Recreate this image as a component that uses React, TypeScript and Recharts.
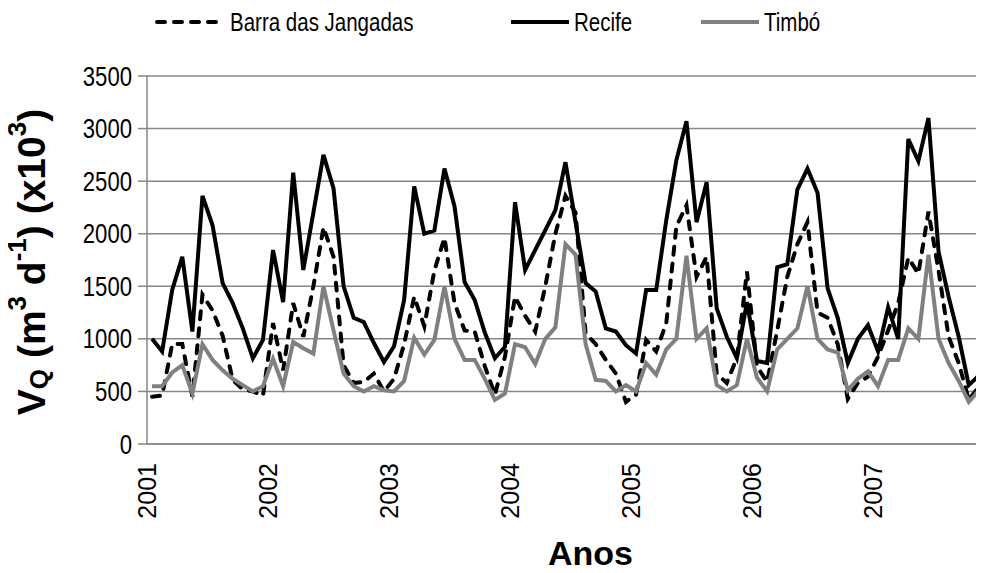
import { CartesianGrid, Label, Line, LineChart, XAxis, YAxis } from 'recharts';

const YEARS = ['2001', '2002', '2003', '2004', '2005', '2006', '2007'];

// monthly values, Jan 2001 .. Dec 2007
const BARRA = [
  450, 460, 950, 950, 450, 1420, 1270, 1030, 610, 520, 500, 460,
  1150, 700, 1340, 1020, 1500, 2060, 1780, 750, 580, 590, 670, 500,
  620, 950, 1400, 1120, 1650, 1960, 1340, 1080, 1070, 740, 470, 830,
  1400, 1220, 1070, 1500, 2000, 2360, 2200, 1050, 950, 800, 670, 400,
  470, 990, 880, 1150, 2070, 2270, 1590, 1780, 670, 580, 820, 1640,
  735, 590, 1080, 1590, 1900, 2110, 1250, 1200, 950, 430, 580, 640,
  830, 1080, 1340, 1770, 1620, 2210, 1650, 1020, 770, 420, 545, 600,
];

const RECIFE = [
  1000, 880, 1465, 1780, 1070, 2360, 2080, 1530, 1340, 1100, 815, 990,
  1845, 1350, 2580, 1655, 2200, 2750, 2430, 1500, 1200, 1160, 960, 780,
  930, 1370, 2450, 2000, 2030, 2620, 2260, 1540, 1370, 1060, 815, 925,
  2300, 1655, 1845, 2035, 2225, 2680, 2110, 1530, 1450, 1100, 1070, 940,
  860, 1465, 1465, 2130, 2700, 3070, 2110, 2490, 1290, 1020, 815, 1350,
  790, 770, 1680, 1710, 2420, 2620, 2390, 1480, 1200, 770, 1000, 1130,
  880, 1300, 1000, 2900, 2690, 3100, 1830, 1400, 1020, 560, 650, 650,
];

const TIMBO = [
  550, 550, 680, 750, 480, 950, 800, 700, 620, 560, 500, 550,
  810, 550, 970, 910, 860, 1500, 1080, 670, 550, 500, 550, 510,
  500, 600, 1010, 850, 990, 1500, 1000, 800, 800, 620, 420, 480,
  950, 920, 760, 1000, 1110, 1900, 1800, 950, 610, 600, 500, 560,
  500, 770, 660, 900, 1000, 1790, 1000, 1100, 560, 500, 560, 1000,
  630, 500, 900, 1000, 1100, 1500, 1000, 900, 870, 510, 620, 690,
  550, 800, 800, 1100, 1000, 1800, 1000, 770, 600, 400, 510, 560,
];

const Y_TICKS = [0, 500, 1000, 1500, 2000, 2500, 3000, 3500];

const SERIES = [
  { key: 'barra', label: 'Barra das Jangadas', color: '#000000', dash: '8 9' },
  { key: 'recife', label: 'Recife', color: '#000000', dash: undefined },
  { key: 'timbo', label: 'Timbó', color: '#808080', dash: undefined },
];

const FONT = '"Liberation Sans", Arial, sans-serif';
const AXIS_GREY = '#868686';
// the original lettering is a narrow face; squeeze the regular one
const NARROW = 0.82;

// point for month i sits in the middle of its slot
const data = RECIFE.map((recife, i) => ({
  month: i + 0.5,
  barra: BARRA[i],
  recife,
  timbo: TIMBO[i],
}));
const monthTicks = Array.from({ length: RECIFE.length + 1 }, (_, i) => i);
const yearTicks = YEARS.map((_, i) => i * 12);

function YearTick({ x, y, payload }: any) {
  const label = YEARS[Math.round(payload.value / 12)];
  return (
    <text
      x={x}
      y={y}
      transform={`rotate(-90 ${x} ${y})`}
      textAnchor="end"
      dominantBaseline="central"
      fontSize={25}
      fontFamily={FONT}
      fill="#000"
    >
      {label}
    </text>
  );
}

function ValueTick({ x, y, payload }: any) {
  return (
    <text
      x={x}
      y={y}
      dy="0.355em"
      textAnchor="end"
      transform={`translate(${x} 0) scale(${NARROW} 1) translate(${-x} 0)`}
      fontSize={27}
      fontFamily={FONT}
      fill="#000"
    >
      {payload.value}
    </text>
  );
}

function YTitle({ viewBox }: any) {
  const cx = 31;
  const cy = viewBox.y + viewBox.height / 2 + 2;
  return (
    <text
      x={cx}
      y={cy}
      transform={`rotate(-90 ${cx} ${cy})`}
      textAnchor="middle"
      dominantBaseline="central"
      fontSize={39}
      fontWeight="bold"
      fontFamily={FONT}
      fill="#000"
    >
      V
      <tspan fontSize={26} dy={8}>Q</tspan>
      <tspan dy={-8}> (m</tspan>
      <tspan fontSize={26} dy={-14}>3</tspan>
      <tspan dy={14}> d</tspan>
      <tspan fontSize={26} dy={-14}>-1</tspan>
      <tspan dy={14}>) (x10</tspan>
      <tspan fontSize={26} dy={-14}>3</tspan>
      <tspan dy={14}>)</tspan>
    </text>
  );
}

function XTitle({ viewBox }: any) {
  return (
    <text
      x={viewBox.x + viewBox.width / 2 + 20}
      y={viewBox.y + viewBox.height - 8}
      textAnchor="middle"
      fontSize={34}
      fontWeight="bold"
      fontFamily={FONT}
      fill="#000"
    >
      Anos
    </text>
  );
}

const LEGEND_LEFT = [155, 509, 699];
const LEGEND_LINE = [72, 62, 62];

function ChartLegend() {
  return (
    <>
      {SERIES.map((s, i) => (
        <div
          key={s.key}
          style={{
            position: 'absolute',
            top: 8,
            left: LEGEND_LEFT[i],
            display: 'flex',
            alignItems: 'center',
            gap: 3,
            fontFamily: FONT,
            fontSize: 25,
            lineHeight: '28px',
            color: '#000',
            whiteSpace: 'nowrap',
          }}
        >
          <svg width={LEGEND_LINE[i]} height={10}>
            <line
              x1={2}
              x2={LEGEND_LINE[i] - 2}
              y1={5}
              y2={5}
              stroke={s.color}
              strokeWidth={4}
              strokeDasharray={s.dash}
              strokeLinecap={s.dash ? 'round' : 'butt'}
            />
          </svg>
          <span style={{ display: 'inline-block', transform: `scaleX(${NARROW})`, transformOrigin: 'left center' }}>
            {s.label}
          </span>
        </div>
      ))}
    </>
  );
}

export default function App() {
  return (
    <div
      style={{
        position: 'relative',
        marginLeft: -8,
        marginTop: -8,
        width: 984,
        height: 573,
        overflow: 'hidden',
        background: '#fff',
      }}
    >
      <LineChart width={1000} height={573} data={data} margin={{ top: 76, right: 6, bottom: 0, left: 0 }}>
        <CartesianGrid vertical={false} stroke={AXIS_GREY} strokeWidth={1.5} />
        <XAxis
          xAxisId="months"
          type="number"
          dataKey="month"
          domain={[0, RECIFE.length]}
          ticks={monthTicks}
          tick={false}
          tickSize={9}
          height={10}
          axisLine={{ stroke: AXIS_GREY, strokeWidth: 1.5 }}
          tickLine={{ stroke: AXIS_GREY, strokeWidth: 1.5 }}
          interval={0}
        />
        <XAxis
          xAxisId="years"
          type="number"
          dataKey="month"
          domain={[0, RECIFE.length]}
          ticks={yearTicks}
          tick={<YearTick />}
          tickSize={0}
          tickMargin={9}
          height={119}
          axisLine={false}
          tickLine={false}
          interval={0}
        >
          <Label content={<XTitle />} />
        </XAxis>
        <YAxis
          width={147}
          domain={[0, 3500]}
          ticks={Y_TICKS}
          interval={0}
          tickSize={9}
          tickMargin={6}
          tick={<ValueTick />}
          axisLine={{ stroke: AXIS_GREY, strokeWidth: 1.5 }}
          tickLine={{ stroke: AXIS_GREY, strokeWidth: 1.5 }}
        >
          <Label content={<YTitle />} />
        </YAxis>
        {SERIES.map((s) => (
          <Line
            key={s.key}
            xAxisId="months"
            type="linear"
            dataKey={s.key}
            stroke={s.color}
            strokeWidth={4}
            strokeDasharray={s.dash}
            strokeLinecap={s.dash ? 'round' : 'butt'}
            dot={false}
            isAnimationActive={false}
          />
        ))}
      </LineChart>
      <ChartLegend />
    </div>
  );
}
